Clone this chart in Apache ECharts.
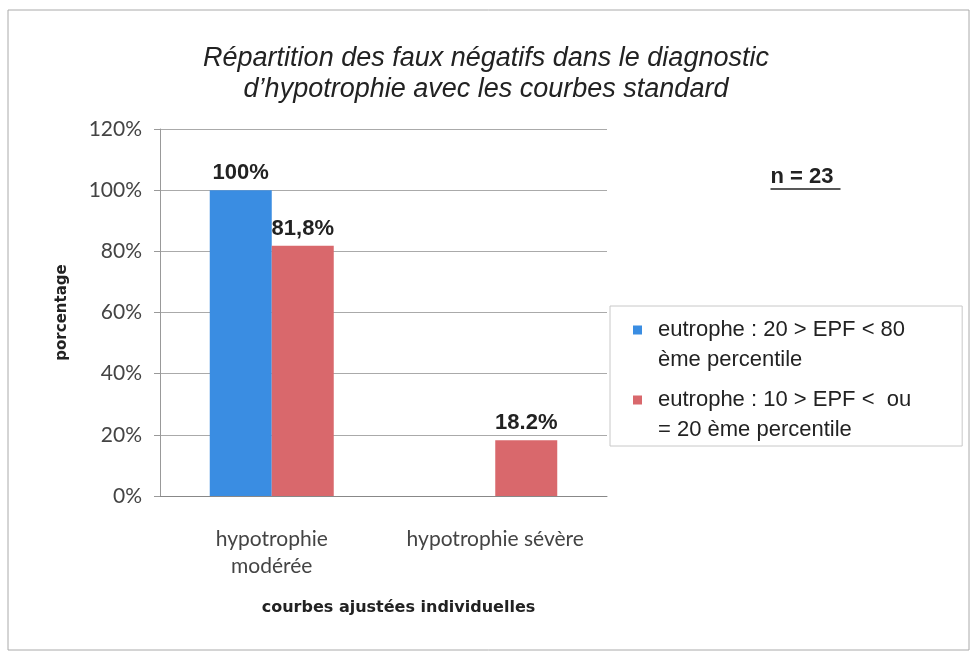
<!DOCTYPE html>
<html>
<head>
<meta charset="utf-8">
<script src="https://cdn.jsdelivr.net/npm/echarts@6/dist/echarts.min.js"></script>
<style>
  html, body { margin: 0; padding: 0; background: #fff; }
  #chart { width: 972px; height: 652px; }
</style>
</head>
<body>
<div id="chart"></div>
<script>
// data
const categories = ['hypotrophie\nmodérée', 'hypotrophie sévère'];
const seriesNames = [
  'eutrophe : 20 > EPF < 80\nème percentile',
  'eutrophe : 10 > EPF <  ou\n= 20 ème percentile'
];
const valuesA = [100, null];
const valuesB = [81.8, 18.2];
const labelsA = ['100%', ''];
const labelsB = ['81,8%', '18.2%'];
const yTicks = [0, 20, 40, 60, 80, 100, 120];

const chart = echarts.init(document.getElementById('chart'));

const labelStyle = {
  show: true,
  position: 'top',
  distance: 6,
  fontFamily: 'Liberation Sans, Arial, sans-serif',
  fontWeight: 'bold',
  fontSize: 22,
  color: '#222'
};

const option = {
  animation: false,
  backgroundColor: '#fff',
  title: {
    text: 'Répartition des faux négatifs dans le diagnostic\nd\u2019hypotrophie avec les courbes standard',
    left: 'center',
    top: 38,
    textStyle: {
      fontFamily: 'Liberation Sans, Arial, sans-serif',
      fontStyle: 'italic',
      fontWeight: 'normal',
      fontSize: 27,
      lineHeight: 31,
      color: '#222'
    }
  },
  legend: {
    orient: 'vertical',
    left: 610,
    top: 306,
    // square sits at the top of a taller box so it lines up with the first text line
    icon: 'path://M0,0L9,0L9,9L0,9Z M0,39L20,39',
    itemWidth: 20,
    itemHeight: 39,
    itemGap: 10,
    borderColor: '#c8c8c8',
    borderWidth: 1,
    padding: [9, 51, 1, 23],
    data: seriesNames,
    textStyle: {
      fontFamily: 'Liberation Sans, Arial, sans-serif',
      fontSize: 22,
      lineHeight: 30,
      color: '#222'
    }
  },
  grid: {
    left: 160,
    right: 365,
    top: 129,
    bottom: 156
  },
  xAxis: {
    type: 'category',
    data: categories,
    name: 'courbes ajustées individuelles',
    nameLocation: 'middle',
    nameGap: 104,
    nameTextStyle: {
      fontFamily: 'DejaVu Sans, Verdana, sans-serif',
      fontWeight: 'bold',
      fontSize: 16,
      color: '#222',
      padding: [0, 0, 0, 30]
    },
    axisLine: { lineStyle: { color: '#888' } },
    axisTick: { show: false },
    axisLabel: {
      interval: 0,
      hideOverlap: false,
      margin: 30,
      fontFamily: 'Lato, sans-serif',
      fontSize: 21,
      lineHeight: 27,
      color: '#444'
    }
  },
  yAxis: {
    type: 'value',
    min: 0,
    max: 120,
    interval: 20,
    name: 'porcentage',
    nameLocation: 'middle',
    nameGap: 90,
    nameTextStyle: {
      fontFamily: 'DejaVu Sans, Verdana, sans-serif',
      fontWeight: 'bold',
      fontSize: 15,
      color: '#222'
    },
    axisLine: { show: true, lineStyle: { color: '#999' } },
    axisTick: { show: true, length: 6, lineStyle: { color: '#999' } },
    splitLine: { lineStyle: { color: '#aaa', type: 'solid' } },
    axisLabel: {
      margin: 18,
      fontFamily: 'Lato, sans-serif',
      fontSize: 21,
      color: '#444',
      formatter: v => (yTicks.indexOf(v) >= 0 ? v + '%' : '')
    }
  },
  series: [
    {
      name: seriesNames[0],
      type: 'bar',
      data: valuesA,
      barWidth: 62,
      barGap: '0%',
      itemStyle: { color: '#3a8de2' },
      label: Object.assign({}, labelStyle, {
        formatter: p => labelsA[p.dataIndex]
      })
    },
    {
      name: seriesNames[1],
      type: 'bar',
      data: valuesB,
      barWidth: 62,
      barGap: '0%',
      itemStyle: { color: '#d9686c' },
      label: Object.assign({}, labelStyle, {
        formatter: p => labelsB[p.dataIndex]
      })
    }
  ],
  graphic: [
    {
      type: 'rect',
      shape: { x: 8, y: 10, width: 961, height: 640 },
      style: { fill: 'none', stroke: '#aaa', lineWidth: 1 },
      silent: true
    },
    {
      type: 'group',
      left: 768,
      top: 166,
      children: [
        {
          type: 'text',
          style: {
            text: 'n = 23',
            fontFamily: 'Liberation Sans, Arial, sans-serif',
            fontWeight: 'bold',
            fontSize: 22,
            fill: '#222'
          }
        },
        {
          type: 'line',
          shape: { x1: 0, y1: 23, x2: 70, y2: 23 },
          style: { stroke: '#222', lineWidth: 1.5 }
        }
      ]
    }
  ]
};

chart.setOption(option);
</script>
</body>
</html>
